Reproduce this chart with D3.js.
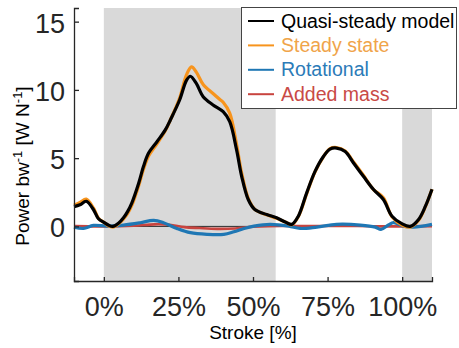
<!DOCTYPE html>
<html>
<head>
<meta charset="utf-8">
<script src="https://cdn.jsdelivr.net/npm/d3@7"></script>
<style>
  body { margin: 0; background: #fff; }
  text { font-family: "Liberation Sans", Arial, sans-serif; }
</style>
</head>
<body>
<div id="chart"></div>
<script>
var svgWidth = 459;
var svgHeight = 348;

var margin = { top: 8, right: 27, bottom: 67, left: 74 };
var width = svgWidth - margin.left - margin.right;
var height = svgHeight - margin.top - margin.bottom;

// Data (stroke %, power)
var quasiX = [-10, -8, -5.9, -3.5, -1.8, 0, 1.5, 3, 5, 6.6, 8, 9.4, 11.7, 13.3, 15, 17.8, 20.6, 22.3, 25.4, 27.7, 29, 31, 33.3, 36.6, 40, 42.2, 44.5, 46.2, 48.4, 50.6, 54.6, 57.9, 61, 63, 65.2, 68, 70.8, 73.6, 75.8, 78, 80.9, 83.7, 87, 90.4, 93.7, 96.6, 99.9, 102.7, 105.5, 107.8, 110];
var quasiY = [1.44, 1.58, 1.84, 1.24, 0.56, 0.3, 0.1, 0.0, 0.25, 0.63, 1.1, 1.73, 3.18, 4.4, 5.37, 6.2, 7.07, 7.8, 9.26, 10.7, 11.0, 10.47, 9.5, 8.9, 8.4, 7.67, 5.6, 3.67, 1.97, 1.24, 0.87, 0.63, 0.3, 0.15, 0.75, 2.46, 4.03, 5.12, 5.66, 5.74, 5.49, 4.64, 3.67, 2.7, 1.97, 0.75, 0.2, 0.0, 0.51, 1.48, 2.72];

var steadyX = [-10, -8, -5.9, -3.5, -1.8, 0, 1.5, 3, 5, 6.6, 8, 9.4, 11.7, 13.3, 15, 17.8, 20.6, 22.3, 25.4, 27.7, 29.4, 31, 33.3, 36.6, 38.9, 40, 42.2, 44.5, 46.2, 48.4, 50.6, 54.6, 57.9, 61, 63, 65.2, 68, 70.8, 73.6, 75.8, 78, 80.9, 83.7, 87, 90.4, 93.7, 96.6, 99.9, 102.7, 105.5, 107.8, 110];
var steadyY = [1.55, 1.75, 2.0, 1.35, 0.6, 0.3, 0.05, -0.05, 0.2, 0.55, 0.95, 1.55, 3.0, 4.2, 5.15, 6.05, 7.0, 7.8, 9.4, 11.1, 11.68, 11.3, 10.4, 9.74, 9.3, 9.1, 8.3, 6.0, 3.9, 2.05, 1.25, 0.85, 0.6, 0.3, 0.12, 0.72, 2.4, 4.0, 5.1, 5.7, 5.78, 5.52, 4.72, 3.75, 2.7, 2.1, 0.7, 0.1, -0.05, 0.45, 1.45, 2.72];

var rotX = [-10, -6.8, -3.5, 1, 6.6, 12.2, 16.7, 20, 24.5, 29, 34.6, 40.2, 43.6, 47, 50.3, 55.7, 62, 65.8, 71.4, 78, 86, 91, 92.9, 95.4, 97.1, 100.5, 103.8, 110];
var rotY = [-0.05, -0.15, 0.07, 0.02, 0.1, 0.27, 0.44, 0.27, -0.15, -0.46, -0.58, -0.58, -0.39, -0.15, 0.02, 0.15, 0.02, -0.15, -0.05, 0.15, 0.1, -0.05, -0.22, 0.1, 0.27, 0.02, -0.05, 0.15];

var addedX = [-10, 0, 10, 17, 22, 27, 32, 38, 44, 50, 55, 70, 85, 95, 110];
var addedY = [0.02, 0.0, 0.05, 0.15, 0.12, -0.05, -0.12, -0.18, -0.15, -0.03, 0.02, 0.02, 0.03, 0.0, 0.02];

var shadeStart = [0, 100];
var shadeEnd = [57.6, 110];

var xTicks = [0, 25, 50, 75, 100];
var yTicks = [0, 5, 10, 15];

var seriesNames = ["Quasi-steady model", "Steady state", "Rotational", "Added mass"];
var lineColors = ["#000000", "#F7941D", "#1F77B4", "#C8443F"];
var textColors = ["#000000", "#F0A44A", "#2B7BB8", "#C94A46"];

var svg = d3.select("#chart")
  .append("svg")
  .attr("width", svgWidth)
  .attr("height", svgHeight);

var chartGroup = svg.append("g")
  .attr("transform", `translate(${margin.left}, ${margin.top})`);

var xScale = d3.scaleLinear().domain([-10, 110]).range([0, width]);
var yScale = d3.scaleLinear().domain([-4, 16]).range([height, 0]);

// grey shaded phases
chartGroup.selectAll("rect.shade")
  .data(shadeStart)
  .enter()
  .append("rect")
  .attr("class", "shade")
  .attr("x", d => xScale(d))
  .attr("y", 0)
  .attr("width", (d, i) => xScale(shadeEnd[i]) - xScale(d))
  .attr("height", height)
  .attr("fill", "#D9D9D9");

// zero line
chartGroup.append("line")
  .attr("x1", 0).attr("x2", width)
  .attr("y1", yScale(0)).attr("y2", yScale(0))
  .attr("stroke", "#000").attr("stroke-width", 0.8);

var line = d3.line()
  .x(d => xScale(d[0]))
  .y(d => yScale(d[1]))
  .curve(d3.curveCatmullRom.alpha(0.5));

var series = [
  { xs: addedX, ys: addedY, color: lineColors[3], w: 2.6 },
  { xs: rotX, ys: rotY, color: lineColors[2], w: 3.2 },
  { xs: steadyX, ys: steadyY, color: lineColors[1], w: 3.2 },
  { xs: quasiX, ys: quasiY, color: lineColors[0], w: 3.2 }
];

series.forEach(function(s) {
  chartGroup.append("path")
    .datum(s.xs.map((x, i) => [x, s.ys[i]]))
    .attr("fill", "none")
    .attr("stroke", s.color)
    .attr("stroke-width", s.w)
    .attr("stroke-linejoin", "round")
    .attr("d", line);
});

// axes
var bottomAxis = d3.axisBottom(xScale)
  .tickValues(xTicks)
  .tickSize(-4)
  .tickPadding(16)
  .tickFormat(d => d + "%");

var leftAxis = d3.axisLeft(yScale)
  .tickValues(yTicks)
  .tickSize(-5)
  .tickPadding(9);

var xAxisG = chartGroup.append("g")
  .attr("transform", `translate(0, ${height})`)
  .call(bottomAxis);

var yAxisG = chartGroup.append("g")
  .call(leftAxis);

[xAxisG, yAxisG].forEach(function(g) {
  g.select(".domain").attr("stroke", "#262626").attr("stroke-width", 1.3);
  g.selectAll(".tick line").attr("stroke", "#262626").attr("stroke-width", 1.3);
  g.selectAll(".tick text")
    .attr("fill", "#262626")
    .style("font-size", "27px")
    .style("font-family", "'Liberation Sans', Arial, sans-serif");
});
xAxisG.selectAll(".tick text").attr("dy", "0.71em");
yAxisG.selectAll(".tick text").attr("dy", "0.39em");

// axes labels
chartGroup.append("text")
  .attr("x", width / 2)
  .attr("y", height + 57.5)
  .attr("text-anchor", "middle")
  .attr("fill", "#000")
  .style("font-size", "19px")
  .text("Stroke [%]");

var yLabel = svg.append("text")
  .attr("transform", "translate(28.5, 166) rotate(-90)")
  .attr("text-anchor", "middle")
  .attr("fill", "#000")
  .style("font-size", "19px");
yLabel.append("tspan").text("Power bw");
yLabel.append("tspan").attr("dy", -7).style("font-size", "13px").text("-1");
yLabel.append("tspan").attr("dy", 7).text(" [W N");
yLabel.append("tspan").attr("dy", -7).style("font-size", "13px").text("-1");
yLabel.append("tspan").attr("dy", 7).text("]");

// legend
var legend = svg.append("g");
legend.append("rect")
  .attr("x", 241.5).attr("y", 7.5)
  .attr("width", 215).attr("height", 101)
  .attr("fill", "#fff")
  .attr("stroke", "#444").attr("stroke-width", 1);

seriesNames.forEach(function(name, i) {
  var by = 27.5 + i * 24.4;
  legend.append("line")
    .attr("x1", 248).attr("x2", 274)
    .attr("y1", by - 6.5).attr("y2", by - 6.5)
    .attr("stroke", lineColors[i]).attr("stroke-width", 2);
  legend.append("text")
    .attr("x", 281).attr("y", by)
    .attr("fill", textColors[i])
    .style("font-size", "19.5px")
    .text(name);
});
</script>
</body>
</html>
